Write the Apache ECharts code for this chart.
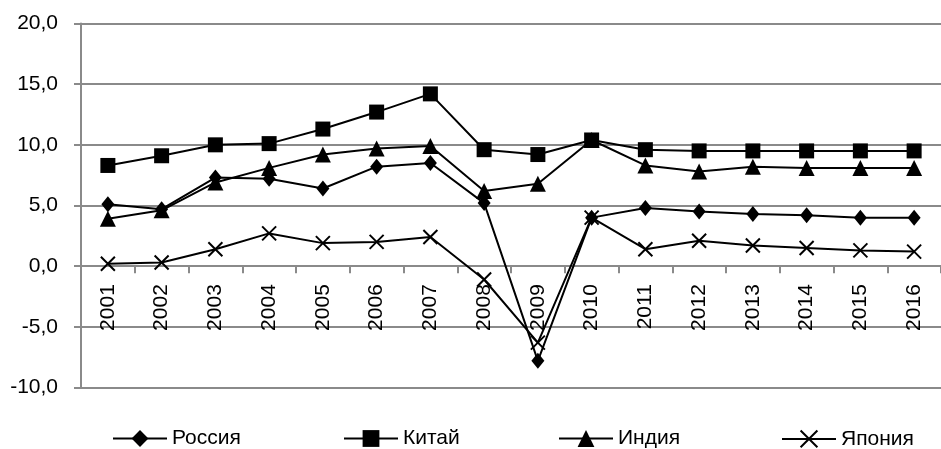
<!DOCTYPE html>
<html>
<head>
<meta charset="utf-8">
<script src="https://cdn.jsdelivr.net/npm/echarts@6/dist/echarts.min.js"></script>
<style>
  html, body { margin: 0; padding: 0; background: #fff; }
  #chart { width: 941px; height: 449px; }
</style>
</head>
<body>
<div id="chart"></div>
<script>
// Годовой рост ВВП, %
const years = ['2001','2002','2003','2004','2005','2006','2007','2008','2009','2010','2011','2012','2013','2014','2015','2016'];
const russia = [5.1, 4.7, 7.3, 7.2, 6.4, 8.2, 8.5, 5.2, -7.8, 4.0, 4.8, 4.5, 4.3, 4.2, 4.0, 4.0];
const china  = [8.3, 9.1, 10.0, 10.1, 11.3, 12.7, 14.2, 9.6, 9.2, 10.4, 9.6, 9.5, 9.5, 9.5, 9.5, 9.5];
const india  = [3.9, 4.6, 6.9, 8.1, 9.2, 9.7, 9.9, 6.2, 6.8, 10.4, 8.3, 7.8, 8.2, 8.1, 8.1, 8.1];
const japan  = [0.2, 0.3, 1.4, 2.7, 1.9, 2.0, 2.4, -1.1, -6.3, 4.0, 1.4, 2.1, 1.7, 1.5, 1.3, 1.2];
const seriesNames = ['Россия', 'Китай', 'Индия', 'Япония'];

const Y_MIN = -10, Y_MAX = 20, Y_STEP = 5;
const FONT = '"Liberation Sans", Arial, sans-serif';
const GRID_COLOR = '#8a8a8a';
const CROSS = 'path://M0,0L10,10M10,0L0,10';
const GRID = { left: 81, top: 23.5, width: 868, height: 364 };

// the category axis sits on the zero line of the value axis
const zeroOffset = -(0 - Y_MIN) / (Y_MAX - Y_MIN) * GRID.height;

const chart = echarts.init(document.getElementById('chart'), null, { renderer: 'canvas' });

function lineSeries(name, data, symbol, size, extraItem) {
  return {
    name: name,
    type: 'line',
    data: data,
    symbol: symbol,
    symbolSize: size,
    showAllSymbol: true,
    lineStyle: { color: '#000', width: 2 },
    itemStyle: Object.assign({ color: '#000' }, extraItem || {}),
    emphasis: { disabled: true },
    animation: false
  };
}

function legendAt(name, left) {
  return {
    data: [name],
    left: left,
    top: 428,
    padding: 0,
    itemWidth: 54,
    itemHeight: 21,
    textStyle: { fontFamily: FONT, fontSize: 21, color: '#000', padding: [0, 0, 0, 0] }
  };
}

chart.setOption({
  backgroundColor: '#fff',
  animation: false,
  grid: GRID,
  legend: [
    legendAt(seriesNames[0], 112),
    legendAt(seriesNames[1], 343),
    legendAt(seriesNames[2], 558),
    legendAt(seriesNames[3], 781)
  ],
  xAxis: {
    type: 'category',
    data: years,
    boundaryGap: true,
    position: 'bottom',
    offset: zeroOffset,
    axisLine: { onZero: false, lineStyle: { color: GRID_COLOR, width: 2 } },
    axisTick: { show: true, interval: 0, length: 7, lineStyle: { color: GRID_COLOR, width: 2 } },
    axisLabel: { rotate: 90, margin: 18, interval: 0, fontFamily: FONT, fontSize: 21, color: '#000' },
    splitLine: { show: false }
  },
  yAxis: {
    type: 'value',
    min: Y_MIN,
    max: Y_MAX,
    interval: Y_STEP,
    axisLine: { show: true, lineStyle: { color: GRID_COLOR, width: 2 } },
    axisTick: { show: true, length: 7, lineStyle: { color: GRID_COLOR, width: 2 } },
    axisLabel: {
      margin: 23,
      fontFamily: FONT, fontSize: 21, color: '#000',
      formatter: v => v.toFixed(1).replace('.', ',')
    },
    splitLine: { show: true, lineStyle: { color: GRID_COLOR, width: 2 } }
  },
  series: [
    lineSeries(seriesNames[0], russia, 'diamond', [13, 16]),
    lineSeries(seriesNames[1], china, 'rect', 15),
    lineSeries(seriesNames[2], india, 'triangle', 16),
    lineSeries(seriesNames[3], japan, CROSS, 14, { color: 'none', borderColor: '#000', borderWidth: 2 })
  ]
});
</script>
</body>
</html>
